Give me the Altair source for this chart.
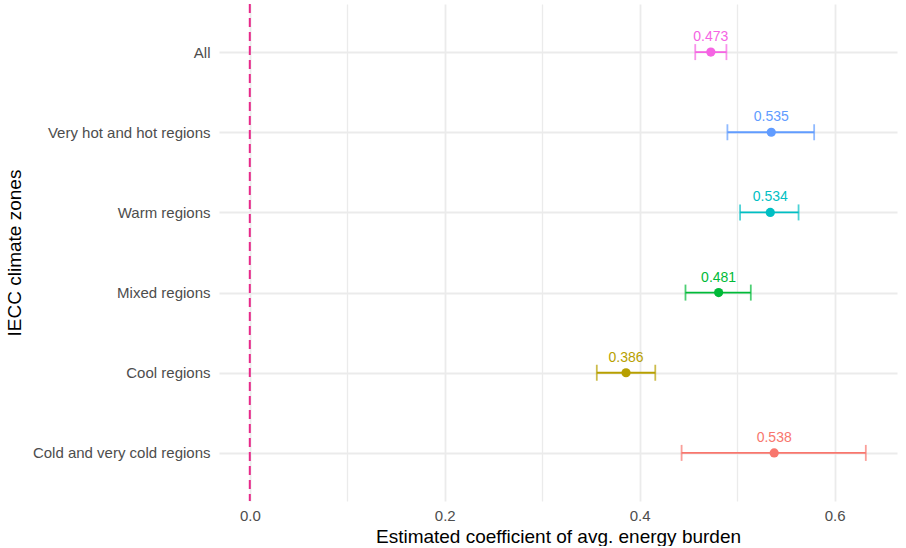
import altair as alt
import pandas as pd

zones = ["All", "Very hot and hot regions", "Warm regions", "Mixed regions",
         "Cool regions", "Cold and very cold regions"]
estimates = [0.473, 0.535, 0.534, 0.481, 0.386, 0.538]
lower = [0.457, 0.490, 0.503, 0.447, 0.356, 0.443]
upper = [0.489, 0.579, 0.563, 0.514, 0.416, 0.632]
colors = ["#F564E3", "#619CFF", "#00BFC4", "#00BA38", "#B79F00", "#F8766D"]
labels = ["0.473", "0.535", "0.534", "0.481", "0.386", "0.538"]
x_ticks = [0.0, 0.1, 0.2, 0.3, 0.4, 0.5, 0.6]

df = pd.DataFrame({"zone": zones, "est": estimates, "lo": lower, "hi": upper, "lab": labels})

FONT = "Liberation Sans"

yaxis = alt.Axis(domain=False, ticks=False, grid=True, labelFontSize=15, labelColor="#4D4D4D",
                 labelPadding=9, titleFontSize=19, titleFontWeight="normal",
                 titleColor="#000000", titlePadding=8, labelFont=FONT, titleFont=FONT,
                 gridColor="#EBEBEB", gridWidth=1.8)
xaxis = alt.Axis(values=x_ticks, domain=False, ticks=False, labelFontSize=15,
                 labelColor="#4D4D4D", labelPadding=7, titleFontSize=19,
                 titleFontWeight="normal", titleColor="#000000", titlePadding=4,
                 labelFont=FONT, titleFont=FONT,
                 labelExpr="(round(datum.value*10) % 2 == 0) ? format(datum.value, '.1f') : ''",
                 gridColor="#EBEBEB",
                 gridWidth={"condition": {"test": "round(datum.value*10) % 2 == 0", "value": 1.8},
                            "value": 1.3})

yscale = alt.Scale(type="point", padding=0.6)
xscale = alt.Scale(domain=[-0.0316, 0.664], nice=False, zero=False)
color = alt.Color("zone:N", scale=alt.Scale(domain=zones, range=colors), legend=None)

base = alt.Chart(df)

bars = base.mark_rule(strokeWidth=1.8).encode(
    x=alt.X("lo:Q", scale=xscale, title="Estimated coefficient of avg. energy burden", axis=xaxis),
    x2="hi:Q",
    y=alt.Y("zone:N", sort=zones, scale=yscale, title="IECC climate zones", axis=yaxis),
    color=color)
cap_lo = base.mark_tick(orient="vertical", size=16, thickness=1.8).encode(
    x=alt.X("lo:Q"), y=alt.Y("zone:N", sort=zones), color=color)
cap_hi = base.mark_tick(orient="vertical", size=16, thickness=1.8).encode(
    x=alt.X("hi:Q"), y=alt.Y("zone:N", sort=zones), color=color)
pts = base.mark_circle(size=85, opacity=1).encode(
    x=alt.X("est:Q"), y=alt.Y("zone:N", sort=zones), color=color)
txt = base.mark_text(dy=-15, fontSize=14, font=FONT).encode(
    x=alt.X("est:Q"), y=alt.Y("zone:N", sort=zones), text="lab:N", color=color)

vline = alt.Chart(pd.DataFrame({"x0": [0.0]})).mark_rule(
    color="#E7298A", strokeDash=[9, 5], strokeWidth=2).encode(x=alt.X("x0:Q"))

chart = alt.layer(bars, vline, cap_lo, cap_hi, pts, txt).properties(
    width=678, height=497,
    padding={"left": 5, "top": 3, "right": 6, "bottom": 0}
).configure_view(stroke="transparent", strokeWidth=0)

chart.save("out.html", embed_options={"renderer": "svg", "actions": False})
